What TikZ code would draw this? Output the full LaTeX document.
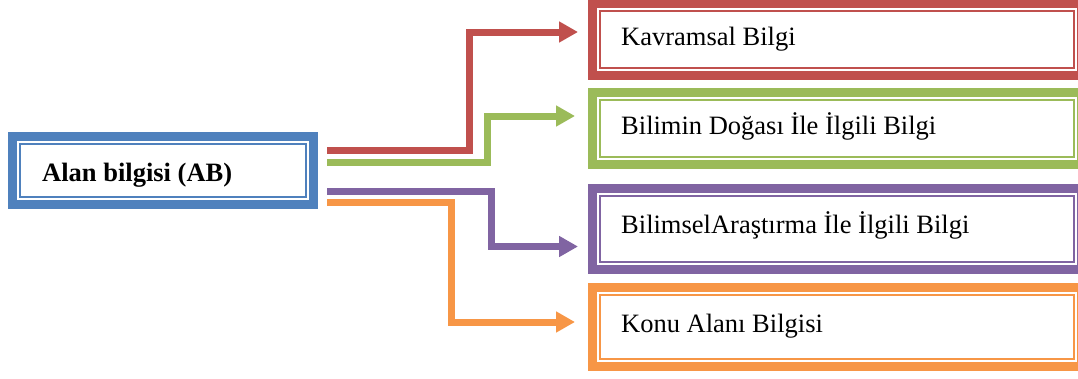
\documentclass[tikz,border=0pt]{standalone}
\usepackage{fontspec}
\setmainfont{Liberation Serif}
\usetikzlibrary{arrows.meta,calc}

\definecolor{cblue}{HTML}{4F81BD}
\definecolor{cred}{HTML}{C0504D}
\definecolor{cgreen}{HTML}{9BBB59}
\definecolor{cpurple}{HTML}{8064A2}
\definecolor{corange}{HTML}{F79646}

\tikzset{
  framebox/.style={rectangle, draw=#1, line width=9pt, fill=white, inner sep=0pt},
  innerline/.style={draw=#1, line width=2pt},
  conn/.style={draw=#1, line width=7pt, line join=miter, line cap=butt,
    -{Triangle[length=19pt,width=20pt]}},
  lbl/.style={anchor=base west, inner sep=0pt, font=\fontsize{26.5}{30}\selectfont},
}

% a thick outer frame with a thin line set just inside it
\newcommand{\framedbox}[5]{%
  \node[framebox=#1, minimum width=#4, minimum height=#5] (#2) at #3 {};
  \draw[innerline=#1] ($(#2.north west)+(12,12)$) rectangle ($(#2.south east)+(-12,-12)$);
}

\begin{document}
\begin{tikzpicture}[x=1pt,y=-1pt]
  \useasboundingbox (0,0) rectangle (1078,378);
  \clip (0,0) rectangle (1078,378);

  % main box
  \framedbox{cblue}{ab}{(163,170.5)}{301pt}{68pt}
  \node[lbl, font=\fontsize{26.5}{30}\selectfont\bfseries] (abt) at (42,181) {Alan bilgisi (AB)};

  % knowledge categories
  \framedbox{cred}{kb}{(837,39.5)}{489pt}{72pt}
  \node[lbl] (kbt) at (621,45) {Kavramsal Bilgi};

  \framedbox{cgreen}{bd}{(837,128.5)}{489pt}{72pt}
  \node[lbl] (bdt) at (621,134) {Bilimin Doğası İle İlgili Bilgi};

  \framedbox{cpurple}{ba}{(837,229)}{489pt}{81pt}
  \node[lbl] (bat) at (621,233.5) {BilimselAraştırma İle İlgili Bilgi};

  \framedbox{corange}{ka}{(837,327)}{489pt}{79pt}
  \node[lbl] (kat) at (621,332) {Konu Alanı Bilgisi};

  % connectors
  \draw[conn=cred]    ($(ab.east)+(9,-20.5)$) -| (469,32)    -- ($(kb.west)+(-10,-7.5)$);
  \draw[conn=cgreen]  ($(ab.east)+(9,-8)$)    -| (487.5,116) -- ($(bd.west)+(-13,-12.5)$);
  \draw[conn=cpurple] ($(ab.east)+(9,20.5)$)  -| (491,246.5) -- ($(ba.west)+(-10,17.5)$);
  \draw[conn=corange] ($(ab.east)+(9,32)$)    -| (451,322)   -- ($(ka.west)+(-13,-5)$);
\end{tikzpicture}
\end{document}
